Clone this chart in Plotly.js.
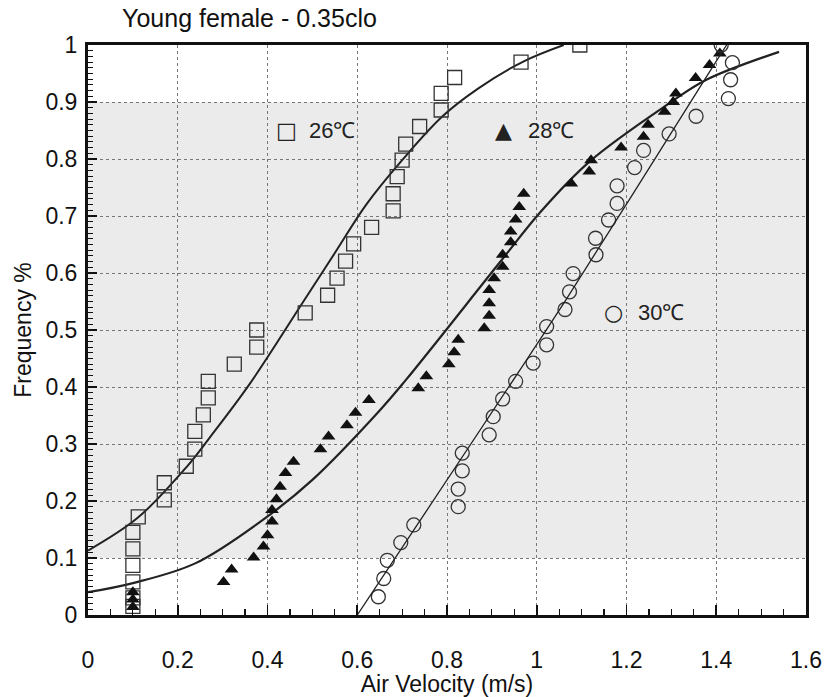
<!DOCTYPE html>
<html>
<head>
<meta charset="utf-8">
<script src="https://cdn.plot.ly/plotly-3.0.1.min.js"></script>
<style>html,body{margin:0;padding:0;background:#fff;}#chart{width:836px;height:697px;}</style>
</head>
<body>
<div id="chart"></div>
<script>
// 26°C observations (open squares)
const x26 = [0.1,0.1,0.1,0.1,0.1,0.1,0.112,0.17,0.17,0.219,0.238,0.238,0.257,0.268,0.268,0.326,0.376,0.376,0.484,0.534,0.555,0.574,0.592,0.632,0.68,0.68,0.689,0.70,0.708,0.739,0.787,0.787,0.817,0.965,1.096];
const y26 = [0.015,0.03,0.058,0.087,0.116,0.145,0.172,0.202,0.232,0.261,0.291,0.322,0.351,0.381,0.41,0.44,0.47,0.50,0.53,0.561,0.591,0.621,0.651,0.68,0.709,0.739,0.769,0.798,0.826,0.857,0.886,0.915,0.943,0.970,1.0];
// 28°C observations (filled triangles)
const x28 = [0.1,0.1,0.1,0.302,0.32,0.369,0.391,0.40,0.41,0.41,0.42,0.428,0.44,0.458,0.518,0.536,0.577,0.596,0.626,0.736,0.754,0.804,0.816,0.825,0.883,0.894,0.894,0.894,0.905,0.924,0.924,0.942,0.942,0.953,0.961,0.971,1.077,1.117,1.121,1.188,1.238,1.248,1.285,1.304,1.31,1.354,1.385,1.408];
const y28 = [0.014,0.027,0.04,0.058,0.08,0.101,0.12,0.14,0.164,0.184,0.203,0.225,0.249,0.269,0.291,0.313,0.333,0.355,0.377,0.398,0.419,0.44,0.461,0.483,0.503,0.525,0.547,0.57,0.591,0.611,0.632,0.654,0.673,0.694,0.716,0.739,0.757,0.778,0.798,0.82,0.839,0.86,0.883,0.90,0.915,0.942,0.965,0.985];
// 30°C observations (open circles)
const x30 = [0.647,0.659,0.667,0.697,0.726,0.825,0.825,0.834,0.834,0.894,0.903,0.924,0.953,0.992,1.022,1.022,1.063,1.073,1.081,1.132,1.131,1.16,1.179,1.179,1.218,1.238,1.295,1.355,1.427,1.432,1.436,1.411];
const y30 = [0.032,0.064,0.096,0.127,0.158,0.19,0.221,0.253,0.284,0.316,0.348,0.379,0.41,0.442,0.474,0.506,0.536,0.567,0.599,0.632,0.661,0.693,0.722,0.753,0.785,0.815,0.844,0.875,0.906,0.939,0.969,1.0];
// fitted curves
const fx26 = [0,0.11,0.22,0.27,0.36,0.48,0.55,0.62,0.70,0.79,0.87,0.97,1.06];
const fy26 = [0.113,0.17,0.26,0.31,0.405,0.55,0.635,0.72,0.798,0.875,0.924,0.971,1.0];
const fx28 = [0,0.1,0.24,0.395,0.5,0.648,0.708,0.916,1.006,1.117,1.296,1.378,1.54];
const fy28 = [0.04,0.056,0.091,0.17,0.237,0.357,0.412,0.617,0.705,0.795,0.898,0.939,0.988];
const fx30 = [0.6,1.065,1.378,1.423];
const fy30 = [0.0,0.553,0.944,1.0];

const xTicks = [0,0.2,0.4,0.6,0.8,1,1.2,1.4,1.6];
const xTickText = ['0','0.2','0.4','0.6','0.8','1','1.2','1.4','1.6'];
const yTicks = [0,0.1,0.2,0.3,0.4,0.5,0.6,0.7,0.8,0.9,1];
const yTickText = ['0','0.1','0.2','0.3','0.4','0.5','0.6','0.7','0.8','0.9','1'];

const FONT = 'Liberation Sans, Arial, sans-serif';
const FS = 23;
const X_RANGE = [0, 1.6];
const Y_RANGE = [0, 1];

const traces = [
  {x: fx26, y: fy26, mode: 'lines', line: {color: '#222', width: 2, shape: 'spline', smoothing: 1}, hoverinfo: 'skip'},
  {x: fx28, y: fy28, mode: 'lines', line: {color: '#222', width: 2.2, shape: 'spline', smoothing: 1}, hoverinfo: 'skip'},
  {x: fx30, y: fy30, xaxis: 'x2', yaxis: 'y2', mode: 'lines', line: {color: '#222', width: 1.3, shape: 'spline', smoothing: 0.6}, hoverinfo: 'skip'},
  {x: x26, y: y26, mode: 'markers', marker: {symbol: 'square-open', size: 14, color: '#333', line: {width: 1.3}}},
  {x: x28, y: y28, mode: 'markers', marker: {symbol: 'triangle-up', size: 12, color: '#111'}},
  {x: x30, y: y30, mode: 'markers', marker: {symbol: 'circle-open', size: 14, color: '#333', line: {width: 1.3}}}
];

const symFont = {family: 'DejaVu Sans, sans-serif', size: FS - 1, color: '#222'};
const layout = {
  width: 836, height: 697,
  margin: {l: 88, r: 30, t: 45, b: 82},
  paper_bgcolor: '#fff', plot_bgcolor: '#fff',
  showlegend: false,
  font: {family: FONT, size: FS, color: '#111'},
  title: {text: 'Young female - 0.35clo', xref: 'container', yref: 'container', x: 0.146, xanchor: 'left', y: 0.974, yanchor: 'middle', font: {family: FONT, size: 25, color: '#111'}},
  xaxis: {
    range: X_RANGE, tickmode: 'array', tickvals: xTicks, ticktext: xTickText,
    ticks: 'inside', ticklen: 10, tickwidth: 1.6, tickcolor: '#111',
    showline: true, linewidth: 3, linecolor: '#111', mirror: true,
    showgrid: true, gridcolor: '#777', griddash: 'dot', gridwidth: 1,
    zeroline: false, ticklabelstandoff: 22,
    tickfont: {family: FONT, size: FS, color: '#111'},
    title: {text: 'Air Velocity (m/s)', font: {family: FONT, size: FS, color: '#111'}, standoff: 2}
  },
  yaxis: {
    range: Y_RANGE, tickmode: 'array', tickvals: yTicks, ticktext: yTickText,
    ticks: 'inside', ticklen: 9, tickwidth: 1.6, tickcolor: '#111',
    showline: true, linewidth: 3, linecolor: '#111', mirror: true,
    showgrid: true, gridcolor: '#777', griddash: 'dot', gridwidth: 1,
    zeroline: false, ticklabelstandoff: 3,
    tickfont: {family: FONT, size: FS, color: '#111'},
    title: {text: 'Frequency %', font: {family: FONT, size: FS, color: '#111'}, standoff: 8}
  },
  // overlay axes carrying the inside tick marks (major + minor)
  xaxis2: {
    overlaying: 'x', anchor: 'y2', side: 'bottom', range: X_RANGE,
    tickmode: 'linear', tick0: 0, dtick: 0.2,
    ticks: 'inside', ticklen: 10, tickwidth: 1.6, tickcolor: '#111',
    minor: {dtick: 0.05, ticks: 'inside', ticklen: 6, tickwidth: 1.2, tickcolor: '#111', showgrid: false},
    showticklabels: false, showgrid: false, zeroline: false, showline: false
  },
  yaxis2: {
    overlaying: 'y', anchor: 'x2', side: 'left', range: Y_RANGE,
    tickmode: 'linear', tick0: 0, dtick: 0.1,
    ticks: 'inside', ticklen: 9, tickwidth: 1.6, tickcolor: '#111',
    minor: {dtick: 0.01, ticks: 'inside', ticklen: 5, tickwidth: 1.1, tickcolor: '#111', showgrid: false},
    showticklabels: false, showgrid: false, zeroline: false, showline: false
  },
  shapes: [
    {type: 'rect', xref: 'paper', yref: 'y', x0: 0, x1: 1, y0: 0.1, y1: 0.9, fillcolor: '#ebebeb', line: {width: 0}, layer: 'below'}
  ],
  annotations: [
    {xref: 'x', yref: 'y', x: 0.443, y: 0.85, text: '\u25A1', showarrow: false, xanchor: 'center', yanchor: 'middle', font: symFont},
    {xref: 'x', yref: 'y', x: 0.443, y: 0.85, text: '26\u2103', showarrow: false, xanchor: 'left', yanchor: 'middle', xshift: 20, font: {family: FONT, size: FS - 1, color: '#222'}},
    {xref: 'x', yref: 'y', x: 0.926, y: 0.85, text: '\u25B2', showarrow: false, xanchor: 'center', yanchor: 'middle', font: symFont},
    {xref: 'x', yref: 'y', x: 0.926, y: 0.85, text: '28\u2103', showarrow: false, xanchor: 'left', yanchor: 'middle', xshift: 22, font: {family: FONT, size: FS - 1, color: '#222'}},
    {xref: 'x', yref: 'y', x: 1.172, y: 0.53, text: '\u25CB', showarrow: false, xanchor: 'center', yanchor: 'middle', font: symFont},
    {xref: 'x', yref: 'y', x: 1.172, y: 0.53, text: '30\u2103', showarrow: false, xanchor: 'left', yanchor: 'middle', xshift: 22, font: {family: FONT, size: FS - 1, color: '#222'}}
  ]
};

Plotly.newPlot('chart', traces, layout, {staticPlot: true, displayModeBar: false});
</script>
</body>
</html>
